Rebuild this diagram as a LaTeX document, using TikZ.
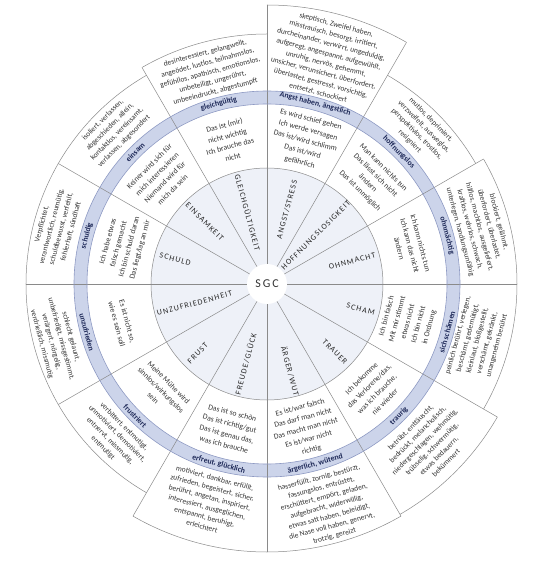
\documentclass[tikz,border=0pt]{standalone}
\usepackage{fontspec}
\setmainfont{Carlito}
\newfontfamily\capsfont{Carlito}[LetterSpace=14]
\usepackage{tikz}
\definecolor{ringblue}{HTML}{CCD4EA}
\definecolor{ringedge}{HTML}{8E9AC3}
\definecolor{discfill}{HTML}{EEF1F8}
\definecolor{linegray}{HTML}{8A8A8A}
\definecolor{navy}{HTML}{1D2857}
\definecolor{textgray}{HTML}{333333}

\begin{document}
\begin{tikzpicture}[x=1pt, y=1pt,
    every node/.style={inner sep=1pt},
    category/.style={font=\capsfont\fontsize{8}{9}\selectfont, text=black!85},
    thought/.style={font=\fontsize{7.7}{11}\selectfont, align=center, text=textgray},
    feeling/.style={font=\fontsize{7.5}{10}\selectfont, align=center, text=textgray},
    ringlabel/.style={font=\bfseries\fontsize{7.8}{8}\selectfont, text=navy},
    gridline/.style={draw=linegray, line width=0.5pt}
]
\useasboundingbox (-267,-302) rectangle (266,284);

% Inner disc and blue ring
\fill[discfill] (0,0) circle[radius=116];
\fill[ringblue, even odd rule] (0,0) circle[radius=193] (0,0) circle[radius=180];

% Sector dividers and outer edges
\foreach \a/\r in {0/250,30/250,60/279,90/279,120/250,150/241,180/241,210/241,240/268,270/268,300/268,330/266}
    \draw[gridline] (0,0) -- (\a:\r);
\foreach \a/\r in {0/250,30/241,60/279,90/250,120/241,150/241,180/241,210/241,240/268,270/268,300/266,330/250}
    \draw[gridline] (\a:\r) arc[start angle=\a, end angle=\a+30, radius=\r];
\draw[gridline] (0,0) circle[radius=116];
\draw[draw=ringedge, line width=0.6pt] (0,0) circle[radius=180] (0,0) circle[radius=193];

% Centre
\node[circle, fill=white, minimum size=40pt, inner sep=0pt, font=\capsfont\fontsize{12}{12}\selectfont, text=textgray] (sgc) at (0,0) {S\,G\,C};

% Ohnmacht
\node[category, rotate=15] (cat-ohnmacht) at (15:88) {OHNMACHT};
\node[thought, rotate=-75] (thought-ohnmacht) at (15:148) {Ich kann nichts tun\\Ich kann das nicht\\ändern};
\node[ringlabel, rotate=-75] (ring-ohnmacht) at (15:186.5) {ohnmächtig};
\node[feeling, rotate=-75] (feel-ohnmacht) at (15:220) {blockiert, gelähmt,\\überfordert, überlastet,\\hilflos, machtlos, ausgeliefert,\\kraftlos, wehrlos, schwach,\\unterlegen, handlungsunfähig};

% Hoffnungslosigkeit
\node[category, rotate=45] (cat-hoffnung) at (45:69) {HOFFNUNGSLOSIGKEIT};
\node[thought, rotate=-45] (thought-hoffnung) at (45:148) {Man kann nichts tun\\Das lässt sich nicht\\ändern\\Das ist unmöglich};
\node[ringlabel, rotate=-45] (ring-hoffnung) at (45:186.5) {hoffnungslos};
\node[feeling, rotate=-45] (feel-hoffnung) at (45:217) {mutlos, deprimiert,\\verzweifelt, ausweglos,\\perspektivlos, trostlos,\\resigniert};

% Angst/Stress
\node[category, rotate=75] (cat-angst) at (75:77) {ANGST/STRESS};
\node[thought, rotate=-15] (thought-angst) at (75:148) {Es wird schief gehen\\Ich werde versagen\\Das ist/wird schlimm\\Das ist/wird\\gefährlich};
\node[ringlabel, rotate=-15] (ring-angst) at (75:186.5) {Angst haben, ängstlich};
\node[feeling, rotate=-15] (feel-angst) at (75:233) {skeptisch, Zweifel haben,\\misstrauisch, besorgt, irritiert,\\durcheinander, verwirrt, ungeduldig,\\aufgeregt, angespannt, aufgewühlt,\\unruhig, nervös, gehemmt,\\unsicher, verunsichert, überfordert,\\überlastet, gestresst, vorsichtig,\\entsetzt, schockiert};

% Gleichgueltigkeit
\node[category, rotate=-75] (cat-gleich) at (105:74) {GLEICHGÜLTIGKEIT};
\node[thought, rotate=15] (thought-gleich) at (105:148) {Das ist (mir)\\nicht wichtig\\Ich brauche das\\nicht};
\node[ringlabel, rotate=15] (ring-gleich) at (105:186.5) {gleichgültig};
\node[feeling, rotate=15] (feel-gleich) at (105:219) {desinteressiert, gelangweilt,\\angeödet, lustlos, teilnahmslos,\\gefühllos, apathisch, emotionslos,\\unbeteiligt, ungerührt,\\unbeeindruckt, abgestumpft};

% Einsamkeit
\node[category, rotate=-45] (cat-einsam) at (135:88) {EINSAMKEIT};
\node[thought, rotate=45] (thought-einsam) at (135:150) {Keiner wird sich für\\mich interessieren\\Niemand wird für\\mich da sein};
\node[ringlabel, rotate=45] (ring-einsam) at (135:186.5) {einsam};
\node[feeling, rotate=45] (feel-einsam) at (135:217) {isoliert, verlassen,\\abgeschieden, allein,\\kontaktlos, vereinsamt,\\verlassen, abgesondert};

% Schuld
\node[category, rotate=-15] (cat-schuld) at (165:95) {SCHULD};
\node[thought, rotate=75] (thought-schuld) at (165:148) {Ich habe etwas\\falsch gemacht\\Ich bin schuld daran\\Das liegt/lag an mir};
\node[ringlabel, rotate=75] (ring-schuld) at (165:186.5) {schuldig};
\node[feeling, rotate=75] (feel-schuld) at (165:218) {Verpflichtet,\\verantwortlich, reumütig,\\schuldbewusst, verfehlt,\\fehlerhaft, sündhaft};

% Unzufriedenheit
\node[category, rotate=15] (cat-unzufr) at (195:75) {UNZUFRIEDENHEIT};
\node[thought, rotate=-75] (thought-unzufr) at (195:150) {Es ist nicht so,\\wie es sein soll};
\node[ringlabel, rotate=-75] (ring-unzufr) at (195:186.5) {unzufrieden};
\node[feeling, rotate=-75] (feel-unzufr) at (195:218) {schlecht gelaunt,\\unbefriedigt, missgestimmt,\\verärgert, nörgelig,\\verdrießlich, missmutig};

% Frust
\node[category, rotate=45] (cat-frust) at (225:98) {FRUST};
\node[thought, rotate=-45] (thought-frust) at (225:150) {Meine Mühe wird\\sinnlos/wirkungslos\\sein};
\node[ringlabel, rotate=-45] (ring-frust) at (225:186.5) {frustriert};
\node[feeling, rotate=-45] (feel-frust) at (225:217) {verbittert, entmutigt,\\unmotiviert, demotiviert,\\entnervt, missmutig,\\entmutigt};

% Freude/Glueck
\node[category, rotate=75] (cat-freude) at (255:83) {FREUDE/GLÜCK};
\node[thought, rotate=-15] (thought-freude) at (255:150) {Das ist so schön\\Das ist richtig/gut\\Das ist genau das,\\was ich brauche};
\node[ringlabel, rotate=-15] (ring-freude) at (255:186.5) {erfreut, glücklich};
\node[feeling, rotate=-15] (feel-freude) at (255:226) {motiviert, dankbar, erfüllt,\\zufrieden, begeistert, sicher,\\berührt, angetan, inspiriert,\\interessiert, ausgeglichen,\\entspannt, beruhigt,\\erleichtert};

% Aerger/Wut
\node[category, rotate=-75] (cat-aerger) at (285:90) {ÄRGER/WUT};
\node[thought, rotate=15] (thought-aerger) at (285:150) {Es ist/war falsch\\Das darf man nicht\\Das macht man nicht\\Es ist/war nicht\\richtig};
\node[ringlabel, rotate=15] (ring-aerger) at (285:186.5) {ärgerlich, wütend};
\node[feeling, rotate=15] (feel-aerger) at (285:231) {hasserfüllt, zornig, bestürzt,\\fassungslos, entrüstet,\\erschüttert, empört, geladen,\\aufgebracht, widerwillig,\\etwas satt haben, beleidigt,\\die Nase voll haben, genervt,\\trotzig, gereizt};

% Trauer
\node[category, rotate=-45] (cat-trauer) at (315:96) {TRAUER};
\node[thought, rotate=45] (thought-trauer) at (315:150) {Ich bekomme\\das Verlorene/das,\\was ich brauche,\\nie wieder};
\node[ringlabel, rotate=45] (ring-trauer) at (315:186.5) {traurig};
\node[feeling, rotate=45] (feel-trauer) at (315:228) {betrübt, enttäuscht,\\bedrückt, melancholisch,\\niedergeschlagen, wehmütig,\\trübselig, schwermütig,\\etwas bedauern,\\bekümmert};

% Scham
\node[category, rotate=-15] (cat-scham) at (345:97) {SCHAM};
\node[thought, rotate=75] (thought-scham) at (345:146) {Ich bin falsch\\Mit mir stimmt\\etwas nicht\\Ich bin nicht\\in Ordnung};
\node[ringlabel, rotate=75] (ring-scham) at (345:186.5) {sich schämen};
\node[feeling, rotate=75] (feel-scham) at (345:218) {peinlich berührt, verlegen,\\beschämt, gedemütigt,\\kleinlaut, bloßgestellt,\\verschämt, gekränkt,\\unangenehm berührt};

\end{tikzpicture}
\end{document}
